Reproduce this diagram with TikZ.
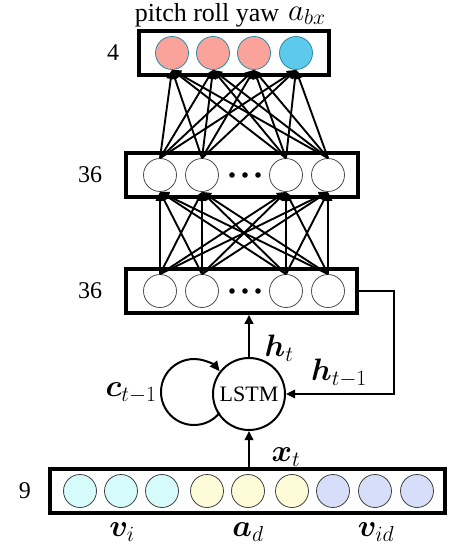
\RequirePackage{fix-cm}
\documentclass[tikz,border=0pt]{standalone}
\usepackage{amsmath}
\usepackage{bm}
\usepackage{fontspec}
\setmainfont{Liberation Serif}
\usetikzlibrary{arrows.meta}
\definecolor{pinkn}{HTML}{F9A39B}
\definecolor{bluen}{HTML}{5DC9EB}
\definecolor{outedge}{HTML}{2C8AA8}
\definecolor{cyann}{HTML}{D6FBFB}
\definecolor{yellown}{HTML}{FEFBD8}
\definecolor{lavn}{HTML}{D7DEFA}
\begin{document}
\begin{tikzpicture}[x=1pt,y=-1pt,
  every node/.style={font=\fontsize{24}{28}\selectfont},
  layerbox/.style={draw, line width=3.5pt, inner sep=0pt, minimum height=44pt},
  neuron/.style={circle, draw=black!70, line width=0.8pt, minimum size=33pt, inner sep=0pt, fill=white},
  outneuron/.style={neuron, draw=outedge},
  inneuron/.style={neuron, draw=black!75},
  conn/.style={line width=1.9pt, -{Triangle[length=9pt,width=8.5pt]}},
  lbl/.style={inner sep=0pt},
  mlbl/.style={inner sep=0pt, font=\fontsize{31}{34}\selectfont}
]
\useasboundingbox (0,0) rectangle (448,546);

% layer boxes
\node[layerbox, minimum width=190pt] (outbox) at (234,53) {};
\node[layerbox, minimum width=232pt] (midbox) at (242,175) {};
\node[layerbox, minimum width=231pt] (lowbox) at (241.5,291) {};
\node[layerbox, minimum width=395pt] (inbox) at (247.5,491) {};

% output neurons
\node[outneuron, fill=pinkn] (o1) at (172,53) {};
\node[outneuron, fill=pinkn] (o2) at (213,53) {};
\node[outneuron, fill=pinkn] (o3) at (254,53) {};
\node[outneuron, fill=bluen] (o4) at (296,53) {};

% hidden neurons
\foreach \i/\x in {1/160,2/202,3/286,4/328}{
  \node[neuron] (m\i) at (\x,175) {};
  \node[neuron] (l\i) at (\x,291) {};
}
\foreach \x in {232,245,258}{
  \fill (\x,175) circle (2.8);
  \fill (\x,291) circle (2.8);
}

% input neurons
\foreach \i/\x/\c in {1/80/cyann,2/121/cyann,3/162/cyann,4/207/yellown,5/248/yellown,6/292/yellown,7/333/lavn,8/375/lavn,9/417/lavn}{
  \node[inneuron, fill=\c] (i\i) at (\x,491) {};
}

% dense connections
\foreach \i in {1,...,4}{
  \foreach \j in {1,...,4}{
    \draw[conn] (l\i.north) -- (m\j.south);
    \draw[conn] (m\i.north) -- (o\j.south);
  }
}

% LSTM cell
\node[circle, draw, line width=2pt, minimum size=72pt, inner sep=0pt, font=\fontsize{22}{26}\selectfont] (lstm) at (249,394) {LSTM};
\coordinate (loopc) at (194,392);
\draw[line width=2pt, -{Triangle[length=10pt,width=9pt]}] (loopc) ++(39:33) arc[start angle=39, end angle=321, radius=33];

\draw[conn] (lstm.north) -- (lowbox.south -| lstm.north);
\draw[conn] (inbox.north -| lstm.south) -- (lstm.south);
\draw[conn, line width=1.6pt] (lowbox.east) -- ++(35,0) |- (lstm.east);

% labels
\node[mlbl] at (279,348) {$\bm{h}_t$};
\node[mlbl] at (339,373) {$\bm{h}_{t-1}$};
\node[mlbl] at (131,393) {$\bm{c}_{t-1}$};
\node[mlbl] at (286,457) {$\bm{x}_t$};
\node[mlbl] at (122,532) {$\bm{v}_i$};
\node[mlbl] at (248,532) {$\bm{a}_d$};
\node[mlbl] at (376,532) {$\bm{v}_{id}$};

\node[lbl] at (113,53) {4};
\node[lbl] at (90,175) {36};
\node[lbl] at (90,291) {36};
\node[lbl] at (25,491) {9};

\node[lbl, anchor=base, font=\fontsize{26}{30}\selectfont] at (207,21) {pitch roll yaw};
\node[mlbl, anchor=base] at (307,20) {$a_{bx}$};
\end{tikzpicture}
\end{document}
